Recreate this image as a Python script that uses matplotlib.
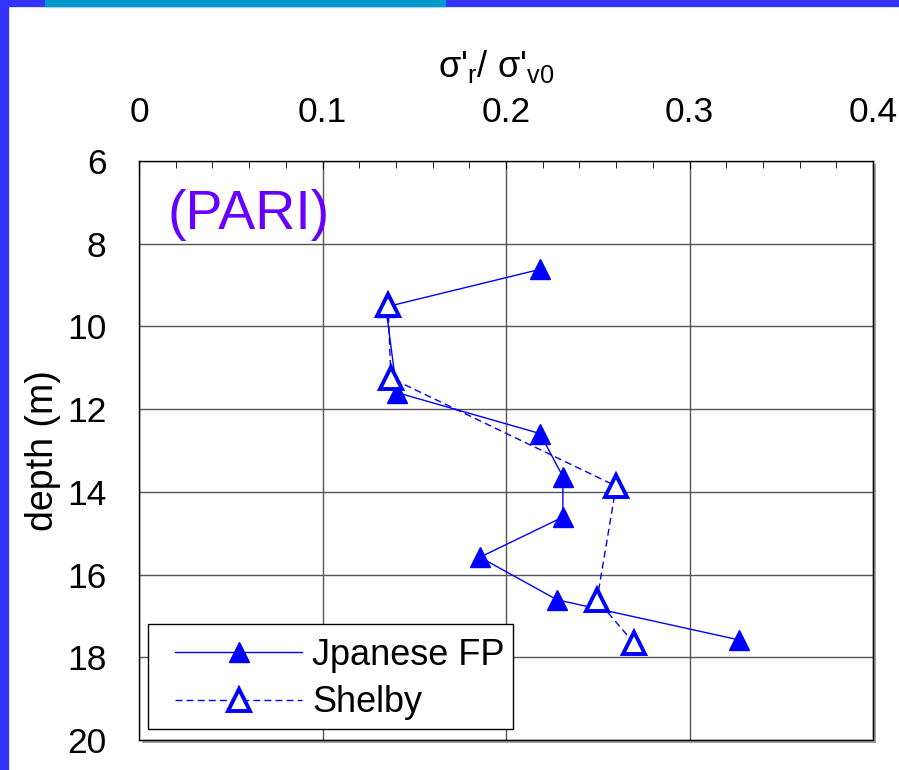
import matplotlib.pyplot as plt
from matplotlib.patches import Rectangle
from matplotlib.ticker import MultipleLocator

plt.rcParams['font.family'] = ['Liberation Sans', 'DejaVu Sans']
plt.rcParams['mathtext.fontset'] = 'custom'
plt.rcParams['mathtext.rm'] = 'Liberation Sans'
plt.rcParams['mathtext.it'] = 'Liberation Sans'

# 数据
jfp_ratio = [0.2185, 0.1345, 0.1406, 0.2185, 0.231, 0.231, 0.1858, 0.2278, 0.327]
jfp_depth = [8.62, 9.53, 11.6, 12.59, 13.63, 14.61, 15.58, 16.61, 17.58]
shelby_ratio = [0.1357, 0.1373, 0.2600, 0.2496, 0.2698]
shelby_depth = [9.47, 11.25, 13.86, 16.61, 17.66]

blue = '#0000ff'

fig = plt.figure(figsize=(8.99, 7.7), dpi=100)

# 边框装饰
fig.patches.append(Rectangle((0, 0), 8 / 899, 1, transform=fig.transFigure, color='#3333ff', zorder=-2))
fig.patches.append(Rectangle((0, 1 - 6 / 770), 1, 6 / 770, transform=fig.transFigure, color='#3333ff', zorder=-2))
fig.patches.append(Rectangle((45 / 899, 1 - 6 / 770), 400 / 899, 6 / 770, transform=fig.transFigure,
                             color='#0099cc', zorder=-1))

# 阴影
fig.patches.append(Rectangle((142 / 899, 27 / 770), 734 / 899, 579 / 770, transform=fig.transFigure,
                             facecolor='#a0a0a0', edgecolor='none', zorder=-1))

ax = fig.add_axes([139 / 899, 30 / 770, 734 / 899, 579 / 770])

ax.plot(jfp_ratio, jfp_depth, '-', color=blue, lw=1, marker='^', ms=15,
        mfc=blue, mec=blue, label='Jpanese FP', zorder=3)
ax.plot(shelby_ratio, shelby_depth, '--', color=blue, lw=1, dashes=(5, 3), marker='^', ms=16,
        mfc='white', mec=blue, mew=2.8, label='Shelby', zorder=4)

ax.set_xlim(0, 0.4)
ax.set_ylim(20, 6)
ax.xaxis.set_minor_locator(MultipleLocator(0.02))
ax.yaxis.set_major_locator(MultipleLocator(2))
ax.xaxis.tick_top()
ax.xaxis.set_label_position('top')
ax.set_xticks([0, 0.1, 0.2, 0.3, 0.4])
ax.set_xticklabels(['0', '0.1', '0.2', '0.3', '0.4'])
ax.tick_params(axis='both', which='both', direction='in', labelsize=25.5)
ax.tick_params(axis='x', which='major', length=6, pad=23)
ax.tick_params(axis='x', which='minor', length=5)
ax.tick_params(axis='y', length=0, pad=23.5)
ax.grid(True, which='major', color='#555555', lw=1)
ax.set_axisbelow(True)
for s in ax.spines.values():
    s.set_linewidth(1)
    s.set_color('black')

ax.set_xlabel("σ'$_{r}$/ σ'$_{v0}$", fontsize=26, labelpad=14, x=0.487)
ax.set_ylabel('depth (m)', fontsize=27, labelpad=4)

ax.text(0.0158, 7.3, '(PARI)', color='#6600ff', fontsize=40, va='center', ha='left')

# 图例框
ax.add_patch(Rectangle((0.0123, 0.019), 0.497, 0.181, transform=ax.transAxes,
                       facecolor='white', edgecolor='black', lw=1, zorder=4.9))
leg = ax.legend(loc='center left', bbox_to_anchor=(0.049, 0.105), fontsize=26,
                handlelength=3.52, handletextpad=0.28, borderpad=0, labelspacing=0.34,
                frameon=False, borderaxespad=0)

fig.savefig('out.png', dpi=100)
